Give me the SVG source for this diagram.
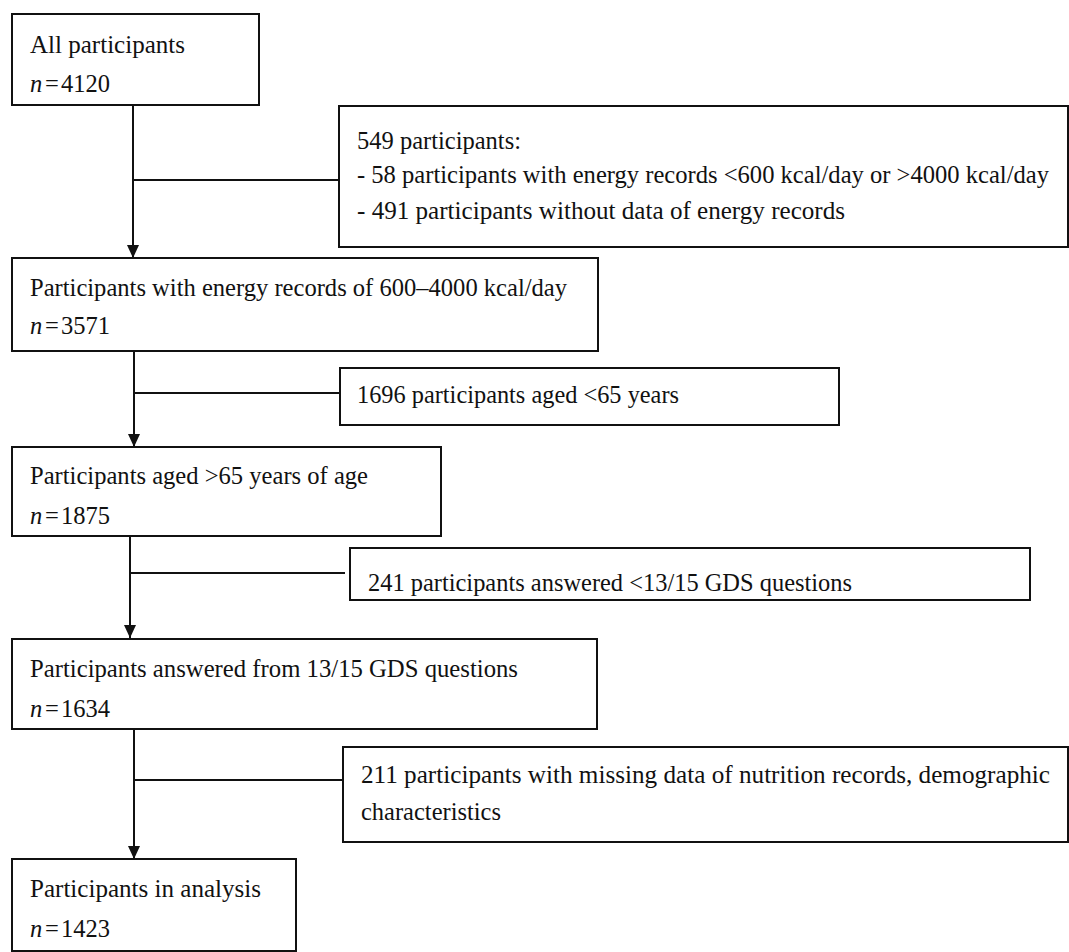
<svg xmlns="http://www.w3.org/2000/svg" width="1069" height="952" viewBox="0 0 1069 952">
<style>
.box{fill:#fff;stroke:#111;stroke-width:2}
.t{font-family:"Liberation Serif","Times New Roman",serif;font-size:24.5px;fill:#111}
.i{font-style:italic}
.c{fill:none;stroke:#111;stroke-width:2}
</style>
<defs>
<marker id="ah" markerUnits="userSpaceOnUse" markerWidth="13" markerHeight="12" refX="13" refY="6" orient="auto" viewBox="0 0 13 12">
<path d="M0,0 L13,6 L0,12 Z" fill="#111"/>
</marker>
</defs>
<rect x="0" y="0" width="1069" height="952" fill="#fff"/>
<g id="connectors">
<line class="c" x1="133" y1="105" x2="133" y2="258" marker-end="url(#ah)"/>
<line class="c" x1="133" y1="180" x2="339" y2="180"/>
<line class="c" x1="134" y1="351" x2="134" y2="447" marker-end="url(#ah)"/>
<line class="c" x1="134" y1="393" x2="340" y2="393"/>
<line class="c" x1="130" y1="536" x2="130" y2="638" marker-end="url(#ah)"/>
<line class="c" x1="130" y1="573" x2="345" y2="573"/>
<line class="c" x1="134" y1="729" x2="134" y2="859" marker-end="url(#ah)"/>
<line class="c" x1="134" y1="780" x2="343" y2="780"/>
</g>
<g id="n1">
<rect class="box" x="12" y="14" width="247" height="91"/>
<text class="t" x="30" y="53" textLength="155" lengthAdjust="spacingAndGlyphs">All participants</text>
<text class="t" y="92"><tspan class="i" x="30">n</tspan><tspan x="45">=</tspan><tspan x="61">4120</tspan></text>
</g>
<g id="n2">
<rect class="box" x="339" y="106" width="729" height="141"/>
<text class="t" x="357" y="149" textLength="164" lengthAdjust="spacingAndGlyphs">549 participants:</text>
<text class="t" x="357" y="183" textLength="692" lengthAdjust="spacingAndGlyphs">- 58 participants with energy records &lt;600 kcal/day or &gt;4000 kcal/day</text>
<text class="t" x="357" y="219" textLength="488" lengthAdjust="spacingAndGlyphs">- 491 participants without data of energy records</text>
</g>
<g id="n3">
<rect class="box" x="12" y="258" width="586" height="93"/>
<text class="t" x="30" y="296" textLength="537" lengthAdjust="spacingAndGlyphs">Participants with energy records of 600–4000 kcal/day</text>
<text class="t" y="334"><tspan class="i" x="30">n</tspan><tspan x="45">=</tspan><tspan x="61">3571</tspan></text>
</g>
<g id="n4">
<rect class="box" x="340" y="368" width="499" height="57"/>
<text class="t" x="357" y="403" textLength="322" lengthAdjust="spacingAndGlyphs">1696 participants aged &lt;65 years</text>
</g>
<g id="n5">
<rect class="box" x="12" y="447" width="429" height="89"/>
<text class="t" x="30" y="484" textLength="338" lengthAdjust="spacingAndGlyphs">Participants aged &gt;65 years of age</text>
<text class="t" y="524"><tspan class="i" x="30">n</tspan><tspan x="45">=</tspan><tspan x="61">1875</tspan></text>
</g>
<g id="n6">
<rect class="box" x="350" y="548" width="680" height="52"/>
<text class="t" x="368" y="591" textLength="484" lengthAdjust="spacingAndGlyphs">241 participants answered &lt;13/15 GDS questions</text>
</g>
<g id="n7">
<rect class="box" x="12" y="639" width="585" height="90"/>
<text class="t" x="30" y="677" textLength="488" lengthAdjust="spacingAndGlyphs">Participants answered from 13/15 GDS questions</text>
<text class="t" y="717"><tspan class="i" x="30">n</tspan><tspan x="45">=</tspan><tspan x="61">1634</tspan></text>
</g>
<g id="n8">
<rect class="box" x="343" y="747" width="725" height="95"/>
<text class="t" x="361" y="783" textLength="689" lengthAdjust="spacingAndGlyphs">211 participants with missing data of nutrition records, demographic</text>
<text class="t" x="361" y="820" textLength="140" lengthAdjust="spacingAndGlyphs">characteristics</text>
</g>
<g id="n9">
<rect class="box" x="12" y="859" width="284" height="92"/>
<text class="t" x="30" y="897" textLength="231" lengthAdjust="spacingAndGlyphs">Participants in analysis</text>
<text class="t" y="937"><tspan class="i" x="30">n</tspan><tspan x="45">=</tspan><tspan x="61">1423</tspan></text>
</g>
</svg>
